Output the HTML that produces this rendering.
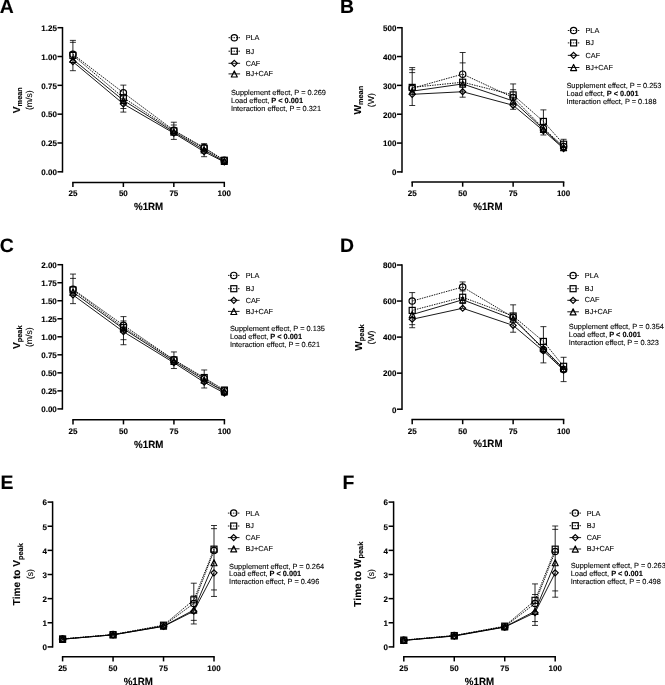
<!DOCTYPE html>
<html><head><meta charset="utf-8"><title>Figure</title>
<style>
html,body{margin:0;padding:0;background:#fff;}
body{width:665px;height:685px;overflow:hidden;}
svg{display:block;will-change:transform;}
text{font-family:"Liberation Sans", sans-serif;fill:#000;text-rendering:geometricPrecision;}
.r{stroke:#000;stroke-width:0.1px;}
text[font-weight=bold],tspan[font-weight=bold]{stroke:#000;stroke-width:0.12px;}
</style></head>
<body>
<svg width="665" height="685" viewBox="0 0 665 685">
<rect width="665" height="685" fill="#fff"/>
<g>
<text x="-0.30" y="13.20" font-size="19.4" font-weight="bold">A</text>
<path d="M62.50 27.70 V171.80" stroke="#000" stroke-width="1.50" fill="none" stroke-linecap="square"/>
<path d="M57.50 171.80 H62.50" stroke="#000" stroke-width="1.50"/>
<text x="56.90" y="175.10" font-size="8.00" font-weight="bold" text-anchor="end">0.00</text>
<path d="M57.50 142.98 H62.50" stroke="#000" stroke-width="1.50"/>
<text x="56.90" y="146.28" font-size="8.00" font-weight="bold" text-anchor="end">0.25</text>
<path d="M57.50 114.16 H62.50" stroke="#000" stroke-width="1.50"/>
<text x="56.90" y="117.46" font-size="8.00" font-weight="bold" text-anchor="end">0.50</text>
<path d="M57.50 85.34 H62.50" stroke="#000" stroke-width="1.50"/>
<text x="56.90" y="88.64" font-size="8.00" font-weight="bold" text-anchor="end">0.75</text>
<path d="M57.50 56.52 H62.50" stroke="#000" stroke-width="1.50"/>
<text x="56.90" y="59.82" font-size="8.00" font-weight="bold" text-anchor="end">1.00</text>
<path d="M57.50 27.70 H62.50" stroke="#000" stroke-width="1.50"/>
<text x="56.90" y="31.00" font-size="8.00" font-weight="bold" text-anchor="end">1.25</text>
<path d="M72.90 182.40 H224.30" stroke="#000" stroke-width="1.50" fill="none" stroke-linecap="square"/>
<path d="M72.90 182.40 V187.00" stroke="#000" stroke-width="1.50"/>
<text x="72.90" y="196.40" font-size="8.00" font-weight="bold" text-anchor="middle">25</text>
<path d="M123.37 182.40 V187.00" stroke="#000" stroke-width="1.50"/>
<text x="123.37" y="196.40" font-size="8.00" font-weight="bold" text-anchor="middle">50</text>
<path d="M173.83 182.40 V187.00" stroke="#000" stroke-width="1.50"/>
<text x="173.83" y="196.40" font-size="8.00" font-weight="bold" text-anchor="middle">75</text>
<path d="M224.30 182.40 V187.00" stroke="#000" stroke-width="1.50"/>
<text x="224.30" y="196.40" font-size="8.00" font-weight="bold" text-anchor="middle">100</text>
<text transform="translate(148.60 210.20) scale(0.938 1)" font-size="10.4" font-weight="bold" text-anchor="middle">%1RM</text>
<text transform="translate(19.90 100.15) rotate(-90)" font-size="10.1" font-weight="bold" text-anchor="middle">V<tspan font-size="7.4" dy="2.2">mean</tspan></text>
<text class="r" transform="translate(32.30 100.15) rotate(-90)" font-size="8.7" text-anchor="middle">(m/s)</text>
<path d="M72.90 40.38 V70.70" stroke="#000" stroke-width="0.85" fill="none"/>
<path d="M69.90 40.38 H75.90" stroke="#000" stroke-width="0.8"/>
<path d="M69.90 42.34 H75.90" stroke="#000" stroke-width="0.8"/>
<path d="M69.90 70.70 H75.90" stroke="#000" stroke-width="0.8"/>
<path d="M123.37 85.11 V112.08" stroke="#000" stroke-width="0.85" fill="none"/>
<path d="M120.37 85.11 H126.37" stroke="#000" stroke-width="0.8"/>
<path d="M120.37 108.51 H126.37" stroke="#000" stroke-width="0.8"/>
<path d="M120.37 112.08 H126.37" stroke="#000" stroke-width="0.8"/>
<path d="M173.83 122.23 V139.41" stroke="#000" stroke-width="0.85" fill="none"/>
<path d="M170.83 122.23 H176.83" stroke="#000" stroke-width="0.8"/>
<path d="M170.83 125.00 H176.83" stroke="#000" stroke-width="0.8"/>
<path d="M170.83 139.41 H176.83" stroke="#000" stroke-width="0.8"/>
<path d="M204.11 143.67 V156.70" stroke="#000" stroke-width="0.85" fill="none"/>
<path d="M201.11 143.67 H207.11" stroke="#000" stroke-width="0.8"/>
<path d="M201.11 156.70 H207.11" stroke="#000" stroke-width="0.8"/>
<path d="M224.30 159.12 V162.58" stroke="#000" stroke-width="0.85" fill="none"/>
<path d="M221.30 159.12 H227.30" stroke="#000" stroke-width="0.8"/>
<path d="M221.30 162.58 H227.30" stroke="#000" stroke-width="0.8"/>
<polyline points="72.90,54.21 123.37,92.72 173.83,130.30 204.11,147.59 224.30,160.27" fill="none" stroke="#000" stroke-width="0.90" stroke-dasharray="1.5 1.0"/>
<polyline points="72.90,55.37 123.37,97.67 173.83,130.88 204.11,148.17 224.30,160.27" fill="none" stroke="#000" stroke-width="0.90" stroke-dasharray="1.5 1.0"/>
<polyline points="72.90,61.71 123.37,103.90 173.83,133.18 204.11,151.63 224.30,162.00" fill="none" stroke="#000" stroke-width="0.90"/>
<polyline points="72.90,59.40 123.37,100.33 173.83,132.03 204.11,149.90 224.30,161.42" fill="none" stroke="#000" stroke-width="0.90"/>
<circle cx="72.90" cy="54.21" r="3.15" fill="none" stroke="#000" stroke-width="1.20"/>
<circle cx="123.37" cy="92.72" r="3.15" fill="none" stroke="#000" stroke-width="1.20"/>
<circle cx="173.83" cy="130.30" r="3.15" fill="none" stroke="#000" stroke-width="1.20"/>
<circle cx="204.11" cy="147.59" r="3.15" fill="none" stroke="#000" stroke-width="1.20"/>
<circle cx="224.30" cy="160.27" r="3.15" fill="none" stroke="#000" stroke-width="1.20"/>
<rect x="69.90" y="52.37" width="6.00" height="6.00" fill="none" stroke="#000" stroke-width="1.20"/>
<rect x="120.37" y="94.67" width="6.00" height="6.00" fill="none" stroke="#000" stroke-width="1.20"/>
<rect x="170.83" y="127.88" width="6.00" height="6.00" fill="none" stroke="#000" stroke-width="1.20"/>
<rect x="201.11" y="145.17" width="6.00" height="6.00" fill="none" stroke="#000" stroke-width="1.20"/>
<rect x="221.30" y="157.27" width="6.00" height="6.00" fill="none" stroke="#000" stroke-width="1.20"/>
<polygon points="72.90,58.71 75.90,61.71 72.90,64.71 69.90,61.71" fill="none" stroke="#000" stroke-width="1.20"/>
<polygon points="123.37,100.90 126.37,103.90 123.37,106.90 120.37,103.90" fill="none" stroke="#000" stroke-width="1.20"/>
<polygon points="173.83,130.18 176.83,133.18 173.83,136.18 170.83,133.18" fill="none" stroke="#000" stroke-width="1.20"/>
<polygon points="204.11,148.63 207.11,151.63 204.11,154.63 201.11,151.63" fill="none" stroke="#000" stroke-width="1.20"/>
<polygon points="224.30,159.00 227.30,162.00 224.30,165.00 221.30,162.00" fill="none" stroke="#000" stroke-width="1.20"/>
<polygon points="72.90,56.40 75.90,62.50 69.90,62.50" fill="none" stroke="#000" stroke-width="1.20" stroke-linejoin="round"/>
<polygon points="123.37,97.33 126.37,103.43 120.37,103.43" fill="none" stroke="#000" stroke-width="1.20" stroke-linejoin="round"/>
<polygon points="173.83,129.03 176.83,135.13 170.83,135.13" fill="none" stroke="#000" stroke-width="1.20" stroke-linejoin="round"/>
<polygon points="204.11,146.90 207.11,153.00 201.11,153.00" fill="none" stroke="#000" stroke-width="1.20" stroke-linejoin="round"/>
<polygon points="224.30,158.42 227.30,164.52 221.30,164.52" fill="none" stroke="#000" stroke-width="1.20" stroke-linejoin="round"/>
<path d="M228.50 37.70 H240.10" stroke="#000" stroke-width="0.90" stroke-dasharray="1.5 1.0"/>
<circle cx="234.30" cy="37.70" r="3.15" fill="none" stroke="#000" stroke-width="1.20"/>
<text class="r" x="245.70" y="40.10" font-size="7.30">PLA</text>
<path d="M228.50 51.20 H240.10" stroke="#000" stroke-width="0.90" stroke-dasharray="1.5 1.0"/>
<rect x="231.30" y="48.20" width="6.00" height="6.00" fill="none" stroke="#000" stroke-width="1.20"/>
<text class="r" x="245.70" y="53.60" font-size="7.30">BJ</text>
<path d="M228.50 63.30 H240.10" stroke="#000" stroke-width="0.90"/>
<polygon points="234.30,60.30 237.30,63.30 234.30,66.30 231.30,63.30" fill="none" stroke="#000" stroke-width="1.20"/>
<text class="r" x="245.70" y="65.70" font-size="7.30">CAF</text>
<path d="M228.50 73.90 H240.10" stroke="#000" stroke-width="0.90"/>
<polygon points="234.30,70.90 237.30,77.00 231.30,77.00" fill="none" stroke="#000" stroke-width="1.20" stroke-linejoin="round"/>
<text class="r" x="245.70" y="76.30" font-size="7.30">BJ+CAF</text>
<text class="r" x="230.90" y="94.70" font-size="7.38">Supplement effect, P = 0.269</text>
<text class="r" x="230.90" y="102.80" font-size="7.38">Load effect, <tspan font-weight="bold">P &lt; 0.001</tspan></text>
<text class="r" x="230.90" y="110.70" font-size="7.38">Interaction effect, P = 0.321</text>
<text x="340.00" y="13.20" font-size="19.4" font-weight="bold">B</text>
<path d="M402.00 27.70 V171.90" stroke="#000" stroke-width="1.50" fill="none" stroke-linecap="square"/>
<path d="M397.00 171.90 H402.00" stroke="#000" stroke-width="1.50"/>
<text x="396.40" y="175.20" font-size="8.00" font-weight="bold" text-anchor="end">0</text>
<path d="M397.00 143.06 H402.00" stroke="#000" stroke-width="1.50"/>
<text x="396.40" y="146.36" font-size="8.00" font-weight="bold" text-anchor="end">100</text>
<path d="M397.00 114.22 H402.00" stroke="#000" stroke-width="1.50"/>
<text x="396.40" y="117.52" font-size="8.00" font-weight="bold" text-anchor="end">200</text>
<path d="M397.00 85.38 H402.00" stroke="#000" stroke-width="1.50"/>
<text x="396.40" y="88.68" font-size="8.00" font-weight="bold" text-anchor="end">300</text>
<path d="M397.00 56.54 H402.00" stroke="#000" stroke-width="1.50"/>
<text x="396.40" y="59.84" font-size="8.00" font-weight="bold" text-anchor="end">400</text>
<path d="M397.00 27.70 H402.00" stroke="#000" stroke-width="1.50"/>
<text x="396.40" y="31.00" font-size="8.00" font-weight="bold" text-anchor="end">500</text>
<path d="M412.20 182.10 H563.60" stroke="#000" stroke-width="1.50" fill="none" stroke-linecap="square"/>
<path d="M412.20 182.10 V186.70" stroke="#000" stroke-width="1.50"/>
<text x="412.20" y="196.10" font-size="8.00" font-weight="bold" text-anchor="middle">25</text>
<path d="M462.67 182.10 V186.70" stroke="#000" stroke-width="1.50"/>
<text x="462.67" y="196.10" font-size="8.00" font-weight="bold" text-anchor="middle">50</text>
<path d="M513.13 182.10 V186.70" stroke="#000" stroke-width="1.50"/>
<text x="513.13" y="196.10" font-size="8.00" font-weight="bold" text-anchor="middle">75</text>
<path d="M563.60 182.10 V186.70" stroke="#000" stroke-width="1.50"/>
<text x="563.60" y="196.10" font-size="8.00" font-weight="bold" text-anchor="middle">100</text>
<text transform="translate(487.90 209.90) scale(0.938 1)" font-size="10.4" font-weight="bold" text-anchor="middle">%1RM</text>
<text transform="translate(361.20 100.20) rotate(-90)" font-size="10.1" font-weight="bold" text-anchor="middle">W<tspan font-size="7.4" dy="2.2">mean</tspan></text>
<text class="r" transform="translate(373.60 100.20) rotate(-90)" font-size="8.7" text-anchor="middle">(W)</text>
<path d="M412.20 67.59 V105.51" stroke="#000" stroke-width="0.85" fill="none"/>
<path d="M409.20 67.59 H415.20" stroke="#000" stroke-width="0.8"/>
<path d="M409.20 69.69 H415.20" stroke="#000" stroke-width="0.8"/>
<path d="M409.20 72.60 H415.20" stroke="#000" stroke-width="0.8"/>
<path d="M409.20 105.51 H415.20" stroke="#000" stroke-width="0.8"/>
<path d="M462.67 52.50 V97.20" stroke="#000" stroke-width="0.85" fill="none"/>
<path d="M459.67 52.50 H465.67" stroke="#000" stroke-width="0.8"/>
<path d="M459.67 62.88 H465.67" stroke="#000" stroke-width="0.8"/>
<path d="M459.67 97.20 H465.67" stroke="#000" stroke-width="0.8"/>
<path d="M513.13 83.94 V109.32" stroke="#000" stroke-width="0.85" fill="none"/>
<path d="M510.13 83.94 H516.13" stroke="#000" stroke-width="0.8"/>
<path d="M510.13 89.71 H516.13" stroke="#000" stroke-width="0.8"/>
<path d="M510.13 109.32 H516.13" stroke="#000" stroke-width="0.8"/>
<path d="M543.41 109.89 V134.98" stroke="#000" stroke-width="0.85" fill="none"/>
<path d="M540.41 109.89 H546.41" stroke="#000" stroke-width="0.8"/>
<path d="M540.41 134.98 H546.41" stroke="#000" stroke-width="0.8"/>
<path d="M563.60 139.31 V150.27" stroke="#000" stroke-width="0.85" fill="none"/>
<path d="M560.60 139.31 H566.60" stroke="#000" stroke-width="0.8"/>
<path d="M560.60 150.27 H566.60" stroke="#000" stroke-width="0.8"/>
<polyline points="412.20,88.26 462.67,74.13 513.13,97.49 543.41,128.35 563.60,146.52" fill="none" stroke="#000" stroke-width="0.90" stroke-dasharray="1.5 1.0"/>
<polyline points="412.20,87.40 462.67,82.21 513.13,94.90 543.41,121.43 563.60,144.21" fill="none" stroke="#000" stroke-width="0.90" stroke-dasharray="1.5 1.0"/>
<polyline points="412.20,94.32 462.67,91.72 513.13,105.28 543.41,130.66 563.60,148.54" fill="none" stroke="#000" stroke-width="0.90"/>
<polyline points="412.20,91.15 462.67,83.94 513.13,100.95 543.41,129.22 563.60,147.67" fill="none" stroke="#000" stroke-width="0.90"/>
<circle cx="412.20" cy="88.26" r="3.15" fill="none" stroke="#000" stroke-width="1.20"/>
<circle cx="462.67" cy="74.13" r="3.15" fill="none" stroke="#000" stroke-width="1.20"/>
<circle cx="513.13" cy="97.49" r="3.15" fill="none" stroke="#000" stroke-width="1.20"/>
<circle cx="543.41" cy="128.35" r="3.15" fill="none" stroke="#000" stroke-width="1.20"/>
<circle cx="563.60" cy="146.52" r="3.15" fill="none" stroke="#000" stroke-width="1.20"/>
<rect x="409.20" y="84.40" width="6.00" height="6.00" fill="none" stroke="#000" stroke-width="1.20"/>
<rect x="459.67" y="79.21" width="6.00" height="6.00" fill="none" stroke="#000" stroke-width="1.20"/>
<rect x="510.13" y="91.90" width="6.00" height="6.00" fill="none" stroke="#000" stroke-width="1.20"/>
<rect x="540.41" y="118.43" width="6.00" height="6.00" fill="none" stroke="#000" stroke-width="1.20"/>
<rect x="560.60" y="141.21" width="6.00" height="6.00" fill="none" stroke="#000" stroke-width="1.20"/>
<polygon points="412.20,91.32 415.20,94.32 412.20,97.32 409.20,94.32" fill="none" stroke="#000" stroke-width="1.20"/>
<polygon points="462.67,88.72 465.67,91.72 462.67,94.72 459.67,91.72" fill="none" stroke="#000" stroke-width="1.20"/>
<polygon points="513.13,102.28 516.13,105.28 513.13,108.28 510.13,105.28" fill="none" stroke="#000" stroke-width="1.20"/>
<polygon points="543.41,127.66 546.41,130.66 543.41,133.66 540.41,130.66" fill="none" stroke="#000" stroke-width="1.20"/>
<polygon points="563.60,145.54 566.60,148.54 563.60,151.54 560.60,148.54" fill="none" stroke="#000" stroke-width="1.20"/>
<polygon points="412.20,88.15 415.20,94.25 409.20,94.25" fill="none" stroke="#000" stroke-width="1.20" stroke-linejoin="round"/>
<polygon points="462.67,80.94 465.67,87.04 459.67,87.04" fill="none" stroke="#000" stroke-width="1.20" stroke-linejoin="round"/>
<polygon points="513.13,97.95 516.13,104.05 510.13,104.05" fill="none" stroke="#000" stroke-width="1.20" stroke-linejoin="round"/>
<polygon points="543.41,126.22 546.41,132.32 540.41,132.32" fill="none" stroke="#000" stroke-width="1.20" stroke-linejoin="round"/>
<polygon points="563.60,144.67 566.60,150.77 560.60,150.77" fill="none" stroke="#000" stroke-width="1.20" stroke-linejoin="round"/>
<path d="M567.80 30.50 H579.40" stroke="#000" stroke-width="0.90" stroke-dasharray="1.5 1.0"/>
<circle cx="573.60" cy="30.50" r="3.15" fill="none" stroke="#000" stroke-width="1.20"/>
<text class="r" x="585.50" y="33.00" font-size="7.30">PLA</text>
<path d="M567.80 42.90 H579.40" stroke="#000" stroke-width="0.90" stroke-dasharray="1.5 1.0"/>
<rect x="570.60" y="39.90" width="6.00" height="6.00" fill="none" stroke="#000" stroke-width="1.20"/>
<text class="r" x="585.50" y="45.40" font-size="7.30">BJ</text>
<path d="M567.80 55.35 H579.40" stroke="#000" stroke-width="0.90"/>
<polygon points="573.60,52.35 576.60,55.35 573.60,58.35 570.60,55.35" fill="none" stroke="#000" stroke-width="1.20"/>
<text class="r" x="585.50" y="57.85" font-size="7.30">CAF</text>
<path d="M567.80 67.50 H579.40" stroke="#000" stroke-width="0.90"/>
<polygon points="573.60,64.50 576.60,70.60 570.60,70.60" fill="none" stroke="#000" stroke-width="1.20" stroke-linejoin="round"/>
<text class="r" x="585.50" y="70.00" font-size="7.30">BJ+CAF</text>
<text class="r" x="566.40" y="87.80" font-size="7.38">Supplement effect, P = 0.253</text>
<text class="r" x="566.40" y="96.00" font-size="7.38">Load effect, <tspan font-weight="bold">P &lt; 0.001</tspan></text>
<text class="r" x="566.40" y="103.90" font-size="7.38">Interaction effect, P = 0.188</text>
<text x="-0.30" y="251.50" font-size="19.4" font-weight="bold">C</text>
<path d="M62.40 264.70 V408.90" stroke="#000" stroke-width="1.50" fill="none" stroke-linecap="square"/>
<path d="M57.40 408.90 H62.40" stroke="#000" stroke-width="1.50"/>
<text x="56.80" y="412.20" font-size="8.00" font-weight="bold" text-anchor="end">0.00</text>
<path d="M57.40 390.88 H62.40" stroke="#000" stroke-width="1.50"/>
<text x="56.80" y="394.18" font-size="8.00" font-weight="bold" text-anchor="end">0.25</text>
<path d="M57.40 372.85 H62.40" stroke="#000" stroke-width="1.50"/>
<text x="56.80" y="376.15" font-size="8.00" font-weight="bold" text-anchor="end">0.50</text>
<path d="M57.40 354.82 H62.40" stroke="#000" stroke-width="1.50"/>
<text x="56.80" y="358.12" font-size="8.00" font-weight="bold" text-anchor="end">0.75</text>
<path d="M57.40 336.80 H62.40" stroke="#000" stroke-width="1.50"/>
<text x="56.80" y="340.10" font-size="8.00" font-weight="bold" text-anchor="end">1.00</text>
<path d="M57.40 318.77 H62.40" stroke="#000" stroke-width="1.50"/>
<text x="56.80" y="322.07" font-size="8.00" font-weight="bold" text-anchor="end">1.25</text>
<path d="M57.40 300.75 H62.40" stroke="#000" stroke-width="1.50"/>
<text x="56.80" y="304.05" font-size="8.00" font-weight="bold" text-anchor="end">1.50</text>
<path d="M57.40 282.73 H62.40" stroke="#000" stroke-width="1.50"/>
<text x="56.80" y="286.03" font-size="8.00" font-weight="bold" text-anchor="end">1.75</text>
<path d="M57.40 264.70 H62.40" stroke="#000" stroke-width="1.50"/>
<text x="56.80" y="268.00" font-size="8.00" font-weight="bold" text-anchor="end">2.00</text>
<path d="M73.00 419.80 H224.40" stroke="#000" stroke-width="1.50" fill="none" stroke-linecap="square"/>
<path d="M73.00 419.80 V424.40" stroke="#000" stroke-width="1.50"/>
<text x="73.00" y="433.80" font-size="8.00" font-weight="bold" text-anchor="middle">25</text>
<path d="M123.47 419.80 V424.40" stroke="#000" stroke-width="1.50"/>
<text x="123.47" y="433.80" font-size="8.00" font-weight="bold" text-anchor="middle">50</text>
<path d="M173.93 419.80 V424.40" stroke="#000" stroke-width="1.50"/>
<text x="173.93" y="433.80" font-size="8.00" font-weight="bold" text-anchor="middle">75</text>
<path d="M224.40 419.80 V424.40" stroke="#000" stroke-width="1.50"/>
<text x="224.40" y="433.80" font-size="8.00" font-weight="bold" text-anchor="middle">100</text>
<text transform="translate(148.70 447.60) scale(0.938 1)" font-size="10.4" font-weight="bold" text-anchor="middle">%1RM</text>
<text transform="translate(19.90 337.20) rotate(-90)" font-size="10.1" font-weight="bold" text-anchor="middle">V<tspan font-size="7.4" dy="2.2">peak</tspan></text>
<text class="r" transform="translate(32.30 337.20) rotate(-90)" font-size="8.7" text-anchor="middle">(m/s)</text>
<path d="M73.00 274.07 V303.63" stroke="#000" stroke-width="0.85" fill="none"/>
<path d="M70.00 274.07 H76.00" stroke="#000" stroke-width="0.8"/>
<path d="M70.00 278.40 H76.00" stroke="#000" stroke-width="0.8"/>
<path d="M70.00 303.63 H76.00" stroke="#000" stroke-width="0.8"/>
<path d="M123.47 316.61 V344.73" stroke="#000" stroke-width="0.85" fill="none"/>
<path d="M120.47 316.61 H126.47" stroke="#000" stroke-width="0.8"/>
<path d="M120.47 320.94 H126.47" stroke="#000" stroke-width="0.8"/>
<path d="M120.47 339.68 H126.47" stroke="#000" stroke-width="0.8"/>
<path d="M120.47 344.73 H126.47" stroke="#000" stroke-width="0.8"/>
<path d="M173.93 351.94 V368.52" stroke="#000" stroke-width="0.85" fill="none"/>
<path d="M170.93 351.94 H176.93" stroke="#000" stroke-width="0.8"/>
<path d="M170.93 368.52 H176.93" stroke="#000" stroke-width="0.8"/>
<path d="M204.21 369.97 V387.99" stroke="#000" stroke-width="0.85" fill="none"/>
<path d="M201.21 369.97 H207.21" stroke="#000" stroke-width="0.8"/>
<path d="M201.21 387.99 H207.21" stroke="#000" stroke-width="0.8"/>
<path d="M224.40 387.27 V395.20" stroke="#000" stroke-width="0.85" fill="none"/>
<path d="M221.40 387.27 H227.40" stroke="#000" stroke-width="0.8"/>
<path d="M221.40 395.20 H227.40" stroke="#000" stroke-width="0.8"/>
<polyline points="73.00,289.21 123.47,325.26 173.93,359.87 204.21,378.62 224.40,390.88" fill="none" stroke="#000" stroke-width="0.90" stroke-dasharray="1.5 1.0"/>
<polyline points="73.00,289.94 123.47,327.43 173.93,359.87 204.21,377.54 224.40,390.15" fill="none" stroke="#000" stroke-width="0.90" stroke-dasharray="1.5 1.0"/>
<polyline points="73.00,294.98 123.47,331.75 173.93,362.76 204.21,382.22 224.40,393.04" fill="none" stroke="#000" stroke-width="0.90"/>
<polyline points="73.00,292.10 123.47,328.87 173.93,361.31 204.21,380.06 224.40,391.60" fill="none" stroke="#000" stroke-width="0.90"/>
<circle cx="73.00" cy="289.21" r="3.15" fill="none" stroke="#000" stroke-width="1.20"/>
<circle cx="123.47" cy="325.26" r="3.15" fill="none" stroke="#000" stroke-width="1.20"/>
<circle cx="173.93" cy="359.87" r="3.15" fill="none" stroke="#000" stroke-width="1.20"/>
<circle cx="204.21" cy="378.62" r="3.15" fill="none" stroke="#000" stroke-width="1.20"/>
<circle cx="224.40" cy="390.88" r="3.15" fill="none" stroke="#000" stroke-width="1.20"/>
<rect x="70.00" y="286.94" width="6.00" height="6.00" fill="none" stroke="#000" stroke-width="1.20"/>
<rect x="120.47" y="324.43" width="6.00" height="6.00" fill="none" stroke="#000" stroke-width="1.20"/>
<rect x="170.93" y="356.87" width="6.00" height="6.00" fill="none" stroke="#000" stroke-width="1.20"/>
<rect x="201.21" y="374.54" width="6.00" height="6.00" fill="none" stroke="#000" stroke-width="1.20"/>
<rect x="221.40" y="387.15" width="6.00" height="6.00" fill="none" stroke="#000" stroke-width="1.20"/>
<polygon points="73.00,291.98 76.00,294.98 73.00,297.98 70.00,294.98" fill="none" stroke="#000" stroke-width="1.20"/>
<polygon points="123.47,328.75 126.47,331.75 123.47,334.75 120.47,331.75" fill="none" stroke="#000" stroke-width="1.20"/>
<polygon points="173.93,359.76 176.93,362.76 173.93,365.76 170.93,362.76" fill="none" stroke="#000" stroke-width="1.20"/>
<polygon points="204.21,379.22 207.21,382.22 204.21,385.22 201.21,382.22" fill="none" stroke="#000" stroke-width="1.20"/>
<polygon points="224.40,390.04 227.40,393.04 224.40,396.04 221.40,393.04" fill="none" stroke="#000" stroke-width="1.20"/>
<polygon points="73.00,289.10 76.00,295.20 70.00,295.20" fill="none" stroke="#000" stroke-width="1.20" stroke-linejoin="round"/>
<polygon points="123.47,325.87 126.47,331.97 120.47,331.97" fill="none" stroke="#000" stroke-width="1.20" stroke-linejoin="round"/>
<polygon points="173.93,358.31 176.93,364.41 170.93,364.41" fill="none" stroke="#000" stroke-width="1.20" stroke-linejoin="round"/>
<polygon points="204.21,377.06 207.21,383.16 201.21,383.16" fill="none" stroke="#000" stroke-width="1.20" stroke-linejoin="round"/>
<polygon points="224.40,388.60 227.40,394.70 221.40,394.70" fill="none" stroke="#000" stroke-width="1.20" stroke-linejoin="round"/>
<path d="M228.00 275.40 H239.60" stroke="#000" stroke-width="0.90" stroke-dasharray="1.5 1.0"/>
<circle cx="233.80" cy="275.40" r="3.15" fill="none" stroke="#000" stroke-width="1.20"/>
<text class="r" x="245.70" y="277.60" font-size="7.30">PLA</text>
<path d="M228.00 288.70 H239.60" stroke="#000" stroke-width="0.90" stroke-dasharray="1.5 1.0"/>
<rect x="230.80" y="285.70" width="6.00" height="6.00" fill="none" stroke="#000" stroke-width="1.20"/>
<text class="r" x="245.70" y="290.90" font-size="7.30">BJ</text>
<path d="M228.00 300.30 H239.60" stroke="#000" stroke-width="0.90"/>
<polygon points="233.80,297.30 236.80,300.30 233.80,303.30 230.80,300.30" fill="none" stroke="#000" stroke-width="1.20"/>
<text class="r" x="245.70" y="302.50" font-size="7.30">CAF</text>
<path d="M228.00 311.40 H239.60" stroke="#000" stroke-width="0.90"/>
<polygon points="233.80,308.40 236.80,314.50 230.80,314.50" fill="none" stroke="#000" stroke-width="1.20" stroke-linejoin="round"/>
<text class="r" x="245.70" y="313.60" font-size="7.30">BJ+CAF</text>
<text class="r" x="229.90" y="331.30" font-size="7.38">Supplement effect, P = 0.135</text>
<text class="r" x="229.90" y="339.40" font-size="7.38">Load effect, <tspan font-weight="bold">P &lt; 0.001</tspan></text>
<text class="r" x="229.90" y="347.40" font-size="7.38">Interaction effect, P = 0.621</text>
<text x="340.00" y="251.50" font-size="19.4" font-weight="bold">D</text>
<path d="M402.00 265.00 V409.20" stroke="#000" stroke-width="1.50" fill="none" stroke-linecap="square"/>
<path d="M397.00 409.20 H402.00" stroke="#000" stroke-width="1.50"/>
<text x="396.40" y="412.50" font-size="8.00" font-weight="bold" text-anchor="end">0</text>
<path d="M397.00 373.15 H402.00" stroke="#000" stroke-width="1.50"/>
<text x="396.40" y="376.45" font-size="8.00" font-weight="bold" text-anchor="end">200</text>
<path d="M397.00 337.10 H402.00" stroke="#000" stroke-width="1.50"/>
<text x="396.40" y="340.40" font-size="8.00" font-weight="bold" text-anchor="end">400</text>
<path d="M397.00 301.05 H402.00" stroke="#000" stroke-width="1.50"/>
<text x="396.40" y="304.35" font-size="8.00" font-weight="bold" text-anchor="end">600</text>
<path d="M397.00 265.00 H402.00" stroke="#000" stroke-width="1.50"/>
<text x="396.40" y="268.30" font-size="8.00" font-weight="bold" text-anchor="end">800</text>
<path d="M412.20 419.60 H563.60" stroke="#000" stroke-width="1.50" fill="none" stroke-linecap="square"/>
<path d="M412.20 419.60 V424.20" stroke="#000" stroke-width="1.50"/>
<text x="412.20" y="433.60" font-size="8.00" font-weight="bold" text-anchor="middle">25</text>
<path d="M462.67 419.60 V424.20" stroke="#000" stroke-width="1.50"/>
<text x="462.67" y="433.60" font-size="8.00" font-weight="bold" text-anchor="middle">50</text>
<path d="M513.13 419.60 V424.20" stroke="#000" stroke-width="1.50"/>
<text x="513.13" y="433.60" font-size="8.00" font-weight="bold" text-anchor="middle">75</text>
<path d="M563.60 419.60 V424.20" stroke="#000" stroke-width="1.50"/>
<text x="563.60" y="433.60" font-size="8.00" font-weight="bold" text-anchor="middle">100</text>
<text transform="translate(487.90 447.40) scale(0.938 1)" font-size="10.4" font-weight="bold" text-anchor="middle">%1RM</text>
<text transform="translate(362.00 337.50) rotate(-90)" font-size="10.1" font-weight="bold" text-anchor="middle">W<tspan font-size="7.4" dy="2.2">peak</tspan></text>
<text class="r" transform="translate(373.80 337.50) rotate(-90)" font-size="8.7" text-anchor="middle">(W)</text>
<path d="M412.20 292.58 V327.73" stroke="#000" stroke-width="0.85" fill="none"/>
<path d="M409.20 292.58 H415.20" stroke="#000" stroke-width="0.8"/>
<path d="M409.20 324.66 H415.20" stroke="#000" stroke-width="0.8"/>
<path d="M409.20 327.73 H415.20" stroke="#000" stroke-width="0.8"/>
<path d="M462.67 281.94 V308.26" stroke="#000" stroke-width="0.85" fill="none"/>
<path d="M459.67 281.94 H465.67" stroke="#000" stroke-width="0.8"/>
<path d="M459.67 290.96 H465.67" stroke="#000" stroke-width="0.8"/>
<path d="M459.67 303.57 H465.67" stroke="#000" stroke-width="0.8"/>
<path d="M513.13 304.84 V332.23" stroke="#000" stroke-width="0.85" fill="none"/>
<path d="M510.13 304.84 H516.13" stroke="#000" stroke-width="0.8"/>
<path d="M510.13 332.23 H516.13" stroke="#000" stroke-width="0.8"/>
<path d="M543.41 326.65 V362.88" stroke="#000" stroke-width="0.85" fill="none"/>
<path d="M540.41 326.65 H546.41" stroke="#000" stroke-width="0.8"/>
<path d="M540.41 362.88 H546.41" stroke="#000" stroke-width="0.8"/>
<path d="M563.60 357.29 V381.62" stroke="#000" stroke-width="0.85" fill="none"/>
<path d="M560.60 357.29 H566.60" stroke="#000" stroke-width="0.8"/>
<path d="M560.60 381.62 H566.60" stroke="#000" stroke-width="0.8"/>
<polyline points="412.20,301.05 462.67,286.99 513.13,317.27 543.41,349.72 563.60,369.55" fill="none" stroke="#000" stroke-width="0.90" stroke-dasharray="1.5 1.0"/>
<polyline points="412.20,310.42 462.67,297.26 513.13,316.01 543.41,341.43 563.60,366.30" fill="none" stroke="#000" stroke-width="0.90" stroke-dasharray="1.5 1.0"/>
<polyline points="412.20,319.26 462.67,308.26 513.13,325.38 543.41,350.98 563.60,370.09" fill="none" stroke="#000" stroke-width="0.90"/>
<polyline points="412.20,314.57 462.67,299.79 513.13,319.07 543.41,348.28 563.60,368.64" fill="none" stroke="#000" stroke-width="0.90"/>
<circle cx="412.20" cy="301.05" r="3.15" fill="none" stroke="#000" stroke-width="1.20"/>
<circle cx="462.67" cy="286.99" r="3.15" fill="none" stroke="#000" stroke-width="1.20"/>
<circle cx="513.13" cy="317.27" r="3.15" fill="none" stroke="#000" stroke-width="1.20"/>
<circle cx="543.41" cy="349.72" r="3.15" fill="none" stroke="#000" stroke-width="1.20"/>
<circle cx="563.60" cy="369.55" r="3.15" fill="none" stroke="#000" stroke-width="1.20"/>
<rect x="409.20" y="307.42" width="6.00" height="6.00" fill="none" stroke="#000" stroke-width="1.20"/>
<rect x="459.67" y="294.26" width="6.00" height="6.00" fill="none" stroke="#000" stroke-width="1.20"/>
<rect x="510.13" y="313.01" width="6.00" height="6.00" fill="none" stroke="#000" stroke-width="1.20"/>
<rect x="540.41" y="338.43" width="6.00" height="6.00" fill="none" stroke="#000" stroke-width="1.20"/>
<rect x="560.60" y="363.30" width="6.00" height="6.00" fill="none" stroke="#000" stroke-width="1.20"/>
<polygon points="412.20,316.26 415.20,319.26 412.20,322.26 409.20,319.26" fill="none" stroke="#000" stroke-width="1.20"/>
<polygon points="462.67,305.26 465.67,308.26 462.67,311.26 459.67,308.26" fill="none" stroke="#000" stroke-width="1.20"/>
<polygon points="513.13,322.38 516.13,325.38 513.13,328.38 510.13,325.38" fill="none" stroke="#000" stroke-width="1.20"/>
<polygon points="543.41,347.98 546.41,350.98 543.41,353.98 540.41,350.98" fill="none" stroke="#000" stroke-width="1.20"/>
<polygon points="563.60,367.09 566.60,370.09 563.60,373.09 560.60,370.09" fill="none" stroke="#000" stroke-width="1.20"/>
<polygon points="412.20,311.57 415.20,317.67 409.20,317.67" fill="none" stroke="#000" stroke-width="1.20" stroke-linejoin="round"/>
<polygon points="462.67,296.79 465.67,302.89 459.67,302.89" fill="none" stroke="#000" stroke-width="1.20" stroke-linejoin="round"/>
<polygon points="513.13,316.07 516.13,322.18 510.13,322.18" fill="none" stroke="#000" stroke-width="1.20" stroke-linejoin="round"/>
<polygon points="543.41,345.28 546.41,351.38 540.41,351.38" fill="none" stroke="#000" stroke-width="1.20" stroke-linejoin="round"/>
<polygon points="563.60,365.64 566.60,371.74 560.60,371.74" fill="none" stroke="#000" stroke-width="1.20" stroke-linejoin="round"/>
<path d="M567.30 275.50 H578.90" stroke="#000" stroke-width="0.90" stroke-dasharray="1.5 1.0"/>
<circle cx="573.10" cy="275.50" r="3.15" fill="none" stroke="#000" stroke-width="1.20"/>
<text class="r" x="584.80" y="277.50" font-size="7.30">PLA</text>
<path d="M567.30 288.70 H578.90" stroke="#000" stroke-width="0.90" stroke-dasharray="1.5 1.0"/>
<rect x="570.10" y="285.70" width="6.00" height="6.00" fill="none" stroke="#000" stroke-width="1.20"/>
<text class="r" x="584.80" y="290.70" font-size="7.30">BJ</text>
<path d="M567.30 300.30 H578.90" stroke="#000" stroke-width="0.90"/>
<polygon points="573.10,297.30 576.10,300.30 573.10,303.30 570.10,300.30" fill="none" stroke="#000" stroke-width="1.20"/>
<text class="r" x="584.80" y="302.30" font-size="7.30">CAF</text>
<path d="M567.30 311.80 H578.90" stroke="#000" stroke-width="0.90"/>
<polygon points="573.10,308.80 576.10,314.90 570.10,314.90" fill="none" stroke="#000" stroke-width="1.20" stroke-linejoin="round"/>
<text class="r" x="584.80" y="313.80" font-size="7.30">BJ+CAF</text>
<text class="r" x="568.80" y="328.50" font-size="7.38">Supplement effect, P = 0.354</text>
<text class="r" x="568.80" y="336.80" font-size="7.38">Load effect, <tspan font-weight="bold">P &lt; 0.001</tspan></text>
<text class="r" x="568.80" y="344.90" font-size="7.38">Interaction effect, P = 0.323</text>
<text x="0.60" y="488.90" font-size="19.4" font-weight="bold">E</text>
<path d="M52.60 502.10 V646.90" stroke="#000" stroke-width="1.50" fill="none" stroke-linecap="square"/>
<path d="M47.60 646.90 H52.60" stroke="#000" stroke-width="1.50"/>
<text x="47.00" y="650.20" font-size="8.00" font-weight="bold" text-anchor="end">0</text>
<path d="M47.60 622.77 H52.60" stroke="#000" stroke-width="1.50"/>
<text x="47.00" y="626.07" font-size="8.00" font-weight="bold" text-anchor="end">1</text>
<path d="M47.60 598.63 H52.60" stroke="#000" stroke-width="1.50"/>
<text x="47.00" y="601.93" font-size="8.00" font-weight="bold" text-anchor="end">2</text>
<path d="M47.60 574.50 H52.60" stroke="#000" stroke-width="1.50"/>
<text x="47.00" y="577.80" font-size="8.00" font-weight="bold" text-anchor="end">3</text>
<path d="M47.60 550.37 H52.60" stroke="#000" stroke-width="1.50"/>
<text x="47.00" y="553.67" font-size="8.00" font-weight="bold" text-anchor="end">4</text>
<path d="M47.60 526.23 H52.60" stroke="#000" stroke-width="1.50"/>
<text x="47.00" y="529.53" font-size="8.00" font-weight="bold" text-anchor="end">5</text>
<path d="M47.60 502.10 H52.60" stroke="#000" stroke-width="1.50"/>
<text x="47.00" y="505.40" font-size="8.00" font-weight="bold" text-anchor="end">6</text>
<path d="M62.60 656.80 H214.00" stroke="#000" stroke-width="1.50" fill="none" stroke-linecap="square"/>
<path d="M62.60 656.80 V661.40" stroke="#000" stroke-width="1.50"/>
<text x="62.60" y="670.80" font-size="8.00" font-weight="bold" text-anchor="middle">25</text>
<path d="M113.07 656.80 V661.40" stroke="#000" stroke-width="1.50"/>
<text x="113.07" y="670.80" font-size="8.00" font-weight="bold" text-anchor="middle">50</text>
<path d="M163.53 656.80 V661.40" stroke="#000" stroke-width="1.50"/>
<text x="163.53" y="670.80" font-size="8.00" font-weight="bold" text-anchor="middle">75</text>
<path d="M214.00 656.80 V661.40" stroke="#000" stroke-width="1.50"/>
<text x="214.00" y="670.80" font-size="8.00" font-weight="bold" text-anchor="middle">100</text>
<text transform="translate(138.30 684.60) scale(0.938 1)" font-size="10.4" font-weight="bold" text-anchor="middle">%1RM</text>
<text transform="translate(20.30 574.20) rotate(-90)" font-size="10.1" font-weight="bold" text-anchor="middle">Time to V<tspan font-size="7.4" dy="2.2">peak</tspan></text>
<text class="r" transform="translate(32.50 574.20) rotate(-90)" font-size="8.7" text-anchor="middle">(s)</text>
<path d="M62.60 637.73 V640.14" stroke="#000" stroke-width="0.85" fill="none"/>
<path d="M59.60 637.73 H65.60" stroke="#000" stroke-width="0.8"/>
<path d="M59.60 640.14 H65.60" stroke="#000" stroke-width="0.8"/>
<path d="M113.07 633.39 V636.04" stroke="#000" stroke-width="0.85" fill="none"/>
<path d="M110.07 633.39 H116.07" stroke="#000" stroke-width="0.8"/>
<path d="M110.07 636.04 H116.07" stroke="#000" stroke-width="0.8"/>
<path d="M163.53 623.97 V627.59" stroke="#000" stroke-width="0.85" fill="none"/>
<path d="M160.53 623.97 H166.53" stroke="#000" stroke-width="0.8"/>
<path d="M160.53 627.59 H166.53" stroke="#000" stroke-width="0.8"/>
<path d="M193.81 583.19 V623.97" stroke="#000" stroke-width="0.85" fill="none"/>
<path d="M190.81 583.19 H196.81" stroke="#000" stroke-width="0.8"/>
<path d="M190.81 595.98 H196.81" stroke="#000" stroke-width="0.8"/>
<path d="M190.81 620.35 H196.81" stroke="#000" stroke-width="0.8"/>
<path d="M190.81 623.97 H196.81" stroke="#000" stroke-width="0.8"/>
<path d="M214.00 525.51 V596.46" stroke="#000" stroke-width="0.85" fill="none"/>
<path d="M211.00 525.51 H217.00" stroke="#000" stroke-width="0.8"/>
<path d="M211.00 528.65 H217.00" stroke="#000" stroke-width="0.8"/>
<path d="M211.00 589.95 H217.00" stroke="#000" stroke-width="0.8"/>
<path d="M211.00 596.46 H217.00" stroke="#000" stroke-width="0.8"/>
<polyline points="62.60,638.94 113.07,634.59 163.53,625.66 193.81,603.46 214.00,550.61" fill="none" stroke="#000" stroke-width="0.90" stroke-dasharray="1.5 1.0"/>
<polyline points="62.60,638.94 113.07,634.59 163.53,625.18 193.81,599.84 214.00,549.16" fill="none" stroke="#000" stroke-width="0.90" stroke-dasharray="1.5 1.0"/>
<polyline points="62.60,639.18 113.07,634.83 163.53,626.39 193.81,611.18 214.00,572.81" fill="none" stroke="#000" stroke-width="0.90"/>
<polyline points="62.60,639.18 113.07,634.83 163.53,626.15 193.81,609.98 214.00,562.67" fill="none" stroke="#000" stroke-width="0.90"/>
<circle cx="62.60" cy="638.94" r="3.15" fill="none" stroke="#000" stroke-width="1.20"/>
<circle cx="113.07" cy="634.59" r="3.15" fill="none" stroke="#000" stroke-width="1.20"/>
<circle cx="163.53" cy="625.66" r="3.15" fill="none" stroke="#000" stroke-width="1.20"/>
<circle cx="193.81" cy="603.46" r="3.15" fill="none" stroke="#000" stroke-width="1.20"/>
<circle cx="214.00" cy="550.61" r="3.15" fill="none" stroke="#000" stroke-width="1.20"/>
<rect x="59.60" y="635.94" width="6.00" height="6.00" fill="none" stroke="#000" stroke-width="1.20"/>
<rect x="110.07" y="631.59" width="6.00" height="6.00" fill="none" stroke="#000" stroke-width="1.20"/>
<rect x="160.53" y="622.18" width="6.00" height="6.00" fill="none" stroke="#000" stroke-width="1.20"/>
<rect x="190.81" y="596.84" width="6.00" height="6.00" fill="none" stroke="#000" stroke-width="1.20"/>
<rect x="211.00" y="546.16" width="6.00" height="6.00" fill="none" stroke="#000" stroke-width="1.20"/>
<polygon points="62.60,636.18 65.60,639.18 62.60,642.18 59.60,639.18" fill="none" stroke="#000" stroke-width="1.20"/>
<polygon points="113.07,631.83 116.07,634.83 113.07,637.83 110.07,634.83" fill="none" stroke="#000" stroke-width="1.20"/>
<polygon points="163.53,623.39 166.53,626.39 163.53,629.39 160.53,626.39" fill="none" stroke="#000" stroke-width="1.20"/>
<polygon points="193.81,608.18 196.81,611.18 193.81,614.18 190.81,611.18" fill="none" stroke="#000" stroke-width="1.20"/>
<polygon points="214.00,569.81 217.00,572.81 214.00,575.81 211.00,572.81" fill="none" stroke="#000" stroke-width="1.20"/>
<polygon points="62.60,636.18 65.60,642.28 59.60,642.28" fill="none" stroke="#000" stroke-width="1.20" stroke-linejoin="round"/>
<polygon points="113.07,631.83 116.07,637.93 110.07,637.93" fill="none" stroke="#000" stroke-width="1.20" stroke-linejoin="round"/>
<polygon points="163.53,623.15 166.53,629.25 160.53,629.25" fill="none" stroke="#000" stroke-width="1.20" stroke-linejoin="round"/>
<polygon points="193.81,606.98 196.81,613.08 190.81,613.08" fill="none" stroke="#000" stroke-width="1.20" stroke-linejoin="round"/>
<polygon points="214.00,559.67 217.00,565.77 211.00,565.77" fill="none" stroke="#000" stroke-width="1.20" stroke-linejoin="round"/>
<path d="M227.90 513.10 H239.50" stroke="#000" stroke-width="0.90" stroke-dasharray="1.5 1.0"/>
<circle cx="233.70" cy="513.10" r="3.15" fill="none" stroke="#000" stroke-width="1.20"/>
<text class="r" x="245.50" y="515.50" font-size="7.30">PLA</text>
<path d="M227.90 526.00 H239.50" stroke="#000" stroke-width="0.90" stroke-dasharray="1.5 1.0"/>
<rect x="230.70" y="523.00" width="6.00" height="6.00" fill="none" stroke="#000" stroke-width="1.20"/>
<text class="r" x="245.50" y="528.40" font-size="7.30">BJ</text>
<path d="M227.90 537.60 H239.50" stroke="#000" stroke-width="0.90"/>
<polygon points="233.70,534.60 236.70,537.60 233.70,540.60 230.70,537.60" fill="none" stroke="#000" stroke-width="1.20"/>
<text class="r" x="245.50" y="540.00" font-size="7.30">CAF</text>
<path d="M227.90 548.80 H239.50" stroke="#000" stroke-width="0.90"/>
<polygon points="233.70,545.80 236.70,551.90 230.70,551.90" fill="none" stroke="#000" stroke-width="1.20" stroke-linejoin="round"/>
<text class="r" x="245.50" y="551.20" font-size="7.30">BJ+CAF</text>
<text class="r" x="229.10" y="568.70" font-size="7.38">Supplement effect, P = 0.264</text>
<text class="r" x="229.10" y="576.40" font-size="7.38">Load effect, <tspan font-weight="bold">P &lt; 0.001</tspan></text>
<text class="r" x="229.10" y="584.40" font-size="7.38">Interaction effect, P = 0.496</text>
<text x="342.50" y="488.90" font-size="19.4" font-weight="bold">F</text>
<path d="M393.60 502.10 V646.90" stroke="#000" stroke-width="1.50" fill="none" stroke-linecap="square"/>
<path d="M388.60 646.90 H393.60" stroke="#000" stroke-width="1.50"/>
<text x="388.00" y="650.20" font-size="8.00" font-weight="bold" text-anchor="end">0</text>
<path d="M388.60 622.77 H393.60" stroke="#000" stroke-width="1.50"/>
<text x="388.00" y="626.07" font-size="8.00" font-weight="bold" text-anchor="end">1</text>
<path d="M388.60 598.63 H393.60" stroke="#000" stroke-width="1.50"/>
<text x="388.00" y="601.93" font-size="8.00" font-weight="bold" text-anchor="end">2</text>
<path d="M388.60 574.50 H393.60" stroke="#000" stroke-width="1.50"/>
<text x="388.00" y="577.80" font-size="8.00" font-weight="bold" text-anchor="end">3</text>
<path d="M388.60 550.37 H393.60" stroke="#000" stroke-width="1.50"/>
<text x="388.00" y="553.67" font-size="8.00" font-weight="bold" text-anchor="end">4</text>
<path d="M388.60 526.23 H393.60" stroke="#000" stroke-width="1.50"/>
<text x="388.00" y="529.53" font-size="8.00" font-weight="bold" text-anchor="end">5</text>
<path d="M388.60 502.10 H393.60" stroke="#000" stroke-width="1.50"/>
<text x="388.00" y="505.40" font-size="8.00" font-weight="bold" text-anchor="end">6</text>
<path d="M403.80 656.80 H555.20" stroke="#000" stroke-width="1.50" fill="none" stroke-linecap="square"/>
<path d="M403.80 656.80 V661.40" stroke="#000" stroke-width="1.50"/>
<text x="403.80" y="670.80" font-size="8.00" font-weight="bold" text-anchor="middle">25</text>
<path d="M454.27 656.80 V661.40" stroke="#000" stroke-width="1.50"/>
<text x="454.27" y="670.80" font-size="8.00" font-weight="bold" text-anchor="middle">50</text>
<path d="M504.73 656.80 V661.40" stroke="#000" stroke-width="1.50"/>
<text x="504.73" y="670.80" font-size="8.00" font-weight="bold" text-anchor="middle">75</text>
<path d="M555.20 656.80 V661.40" stroke="#000" stroke-width="1.50"/>
<text x="555.20" y="670.80" font-size="8.00" font-weight="bold" text-anchor="middle">100</text>
<text transform="translate(479.50 684.60) scale(0.938 1)" font-size="10.4" font-weight="bold" text-anchor="middle">%1RM</text>
<text transform="translate(360.80 574.20) rotate(-90)" font-size="10.1" font-weight="bold" text-anchor="middle">Time to W<tspan font-size="7.4" dy="2.2">peak</tspan></text>
<text class="r" transform="translate(373.80 574.20) rotate(-90)" font-size="8.7" text-anchor="middle">(s)</text>
<path d="M403.80 638.94 V641.35" stroke="#000" stroke-width="0.85" fill="none"/>
<path d="M400.80 638.94 H406.80" stroke="#000" stroke-width="0.8"/>
<path d="M400.80 641.35 H406.80" stroke="#000" stroke-width="0.8"/>
<path d="M454.27 634.35 V636.76" stroke="#000" stroke-width="0.85" fill="none"/>
<path d="M451.27 634.35 H457.27" stroke="#000" stroke-width="0.8"/>
<path d="M451.27 636.76 H457.27" stroke="#000" stroke-width="0.8"/>
<path d="M504.73 625.18 V628.32" stroke="#000" stroke-width="0.85" fill="none"/>
<path d="M501.73 625.18 H507.73" stroke="#000" stroke-width="0.8"/>
<path d="M501.73 628.32 H507.73" stroke="#000" stroke-width="0.8"/>
<path d="M535.01 583.91 V625.42" stroke="#000" stroke-width="0.85" fill="none"/>
<path d="M532.01 583.91 H538.01" stroke="#000" stroke-width="0.8"/>
<path d="M532.01 594.53 H538.01" stroke="#000" stroke-width="0.8"/>
<path d="M532.01 621.56 H538.01" stroke="#000" stroke-width="0.8"/>
<path d="M532.01 625.42 H538.01" stroke="#000" stroke-width="0.8"/>
<path d="M555.20 525.99 V597.19" stroke="#000" stroke-width="0.85" fill="none"/>
<path d="M552.20 525.99 H558.20" stroke="#000" stroke-width="0.8"/>
<path d="M552.20 529.37 H558.20" stroke="#000" stroke-width="0.8"/>
<path d="M552.20 590.91 H558.20" stroke="#000" stroke-width="0.8"/>
<path d="M552.20 597.19 H558.20" stroke="#000" stroke-width="0.8"/>
<polyline points="403.80,640.14 454.27,635.56 504.73,626.63 535.01,603.46 555.20,551.57" fill="none" stroke="#000" stroke-width="0.90" stroke-dasharray="1.5 1.0"/>
<polyline points="403.80,640.14 454.27,635.56 504.73,626.15 535.01,600.32 555.20,549.16" fill="none" stroke="#000" stroke-width="0.90" stroke-dasharray="1.5 1.0"/>
<polyline points="403.80,640.38 454.27,636.04 504.73,627.11 535.01,612.63 555.20,572.81" fill="none" stroke="#000" stroke-width="0.90"/>
<polyline points="403.80,640.38 454.27,635.80 504.73,626.87 535.01,611.18 555.20,562.67" fill="none" stroke="#000" stroke-width="0.90"/>
<circle cx="403.80" cy="640.14" r="3.15" fill="none" stroke="#000" stroke-width="1.20"/>
<circle cx="454.27" cy="635.56" r="3.15" fill="none" stroke="#000" stroke-width="1.20"/>
<circle cx="504.73" cy="626.63" r="3.15" fill="none" stroke="#000" stroke-width="1.20"/>
<circle cx="535.01" cy="603.46" r="3.15" fill="none" stroke="#000" stroke-width="1.20"/>
<circle cx="555.20" cy="551.57" r="3.15" fill="none" stroke="#000" stroke-width="1.20"/>
<rect x="400.80" y="637.14" width="6.00" height="6.00" fill="none" stroke="#000" stroke-width="1.20"/>
<rect x="451.27" y="632.56" width="6.00" height="6.00" fill="none" stroke="#000" stroke-width="1.20"/>
<rect x="501.73" y="623.15" width="6.00" height="6.00" fill="none" stroke="#000" stroke-width="1.20"/>
<rect x="532.01" y="597.32" width="6.00" height="6.00" fill="none" stroke="#000" stroke-width="1.20"/>
<rect x="552.20" y="546.16" width="6.00" height="6.00" fill="none" stroke="#000" stroke-width="1.20"/>
<polygon points="403.80,637.38 406.80,640.38 403.80,643.38 400.80,640.38" fill="none" stroke="#000" stroke-width="1.20"/>
<polygon points="454.27,633.04 457.27,636.04 454.27,639.04 451.27,636.04" fill="none" stroke="#000" stroke-width="1.20"/>
<polygon points="504.73,624.11 507.73,627.11 504.73,630.11 501.73,627.11" fill="none" stroke="#000" stroke-width="1.20"/>
<polygon points="535.01,609.63 538.01,612.63 535.01,615.63 532.01,612.63" fill="none" stroke="#000" stroke-width="1.20"/>
<polygon points="555.20,569.81 558.20,572.81 555.20,575.81 552.20,572.81" fill="none" stroke="#000" stroke-width="1.20"/>
<polygon points="403.80,637.38 406.80,643.48 400.80,643.48" fill="none" stroke="#000" stroke-width="1.20" stroke-linejoin="round"/>
<polygon points="454.27,632.80 457.27,638.90 451.27,638.90" fill="none" stroke="#000" stroke-width="1.20" stroke-linejoin="round"/>
<polygon points="504.73,623.87 507.73,629.97 501.73,629.97" fill="none" stroke="#000" stroke-width="1.20" stroke-linejoin="round"/>
<polygon points="535.01,608.18 538.01,614.28 532.01,614.28" fill="none" stroke="#000" stroke-width="1.20" stroke-linejoin="round"/>
<polygon points="555.20,559.67 558.20,565.77 552.20,565.77" fill="none" stroke="#000" stroke-width="1.20" stroke-linejoin="round"/>
<path d="M569.50 513.10 H581.10" stroke="#000" stroke-width="0.90" stroke-dasharray="1.5 1.0"/>
<circle cx="575.30" cy="513.10" r="3.15" fill="none" stroke="#000" stroke-width="1.20"/>
<text class="r" x="586.70" y="515.50" font-size="7.30">PLA</text>
<path d="M569.50 525.70 H581.10" stroke="#000" stroke-width="0.90" stroke-dasharray="1.5 1.0"/>
<rect x="572.30" y="522.70" width="6.00" height="6.00" fill="none" stroke="#000" stroke-width="1.20"/>
<text class="r" x="586.70" y="528.10" font-size="7.30">BJ</text>
<path d="M569.50 537.60 H581.10" stroke="#000" stroke-width="0.90"/>
<polygon points="575.30,534.60 578.30,537.60 575.30,540.60 572.30,537.60" fill="none" stroke="#000" stroke-width="1.20"/>
<text class="r" x="586.70" y="540.00" font-size="7.30">CAF</text>
<path d="M569.50 549.00 H581.10" stroke="#000" stroke-width="0.90"/>
<polygon points="575.30,546.00 578.30,552.10 572.30,552.10" fill="none" stroke="#000" stroke-width="1.20" stroke-linejoin="round"/>
<text class="r" x="586.70" y="551.40" font-size="7.30">BJ+CAF</text>
<text class="r" x="570.70" y="568.20" font-size="7.38">Supplement effect, P = 0.263</text>
<text class="r" x="570.70" y="576.10" font-size="7.38">Load effect, <tspan font-weight="bold">P &lt; 0.001</tspan></text>
<text class="r" x="570.70" y="584.00" font-size="7.38">Interaction effect, P = 0.498</text>
</g>
</svg>
</body></html>
